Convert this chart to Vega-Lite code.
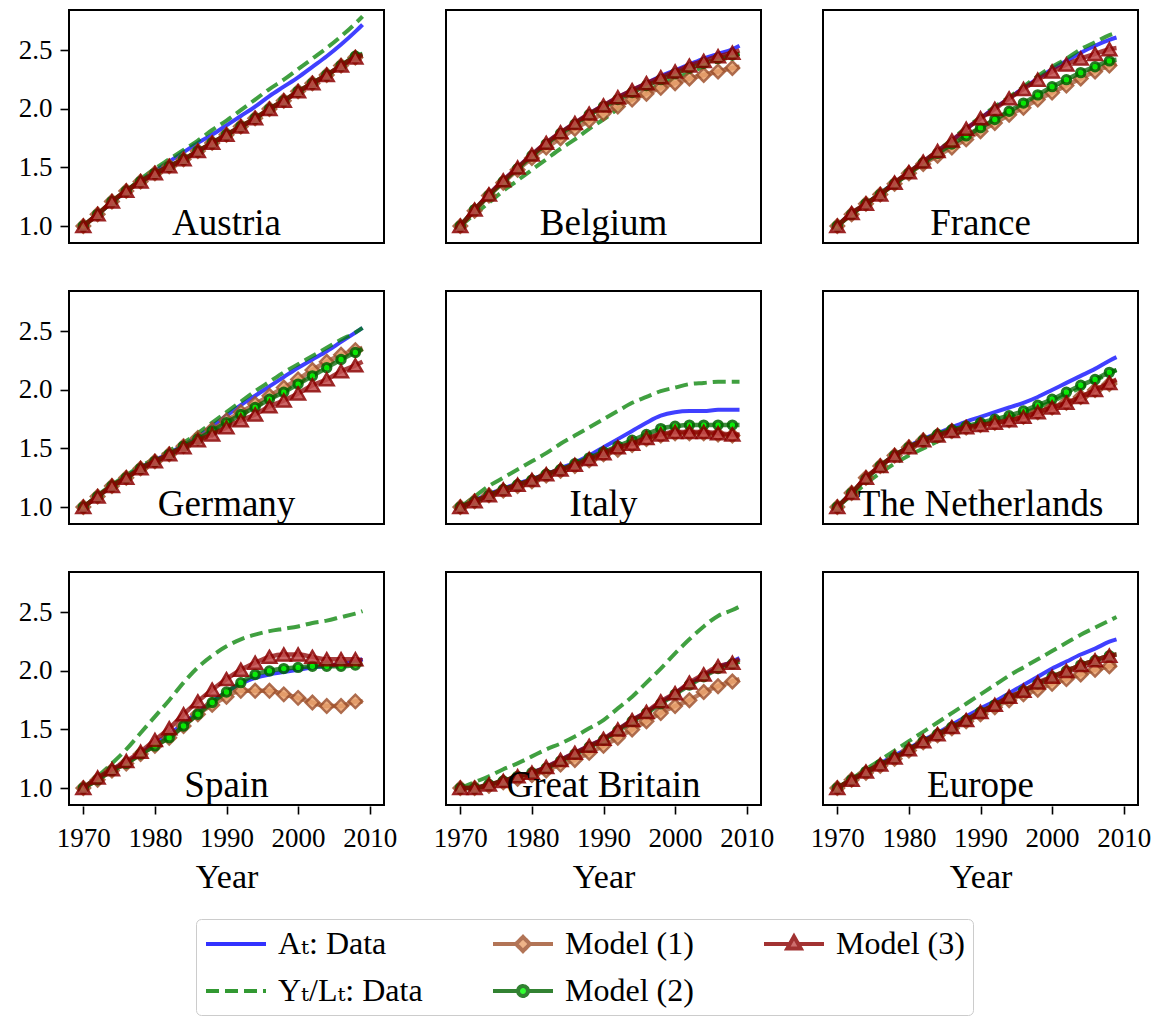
{
"$schema": "https://vega.github.io/schema/vega-lite/v6.json",
"padding": {"left": 18, "top": 7, "right": 5, "bottom": 5},
"background": "white",
"data": {"values": [
{"c":"Austria","yr":1970,"M1":1.00,"M2":1.00,"M3":1.00,"A":1.00,"Y":1.00},
{"c":"Austria","yr":1972,"M1":1.10,"M2":1.10,"M3":1.10,"A":1.10,"Y":1.10},
{"c":"Austria","yr":1974,"M1":1.21,"M2":1.21,"M3":1.21,"A":1.20,"Y":1.20},
{"c":"Austria","yr":1976,"M1":1.30,"M2":1.30,"M3":1.30,"A":1.30,"Y":1.30},
{"c":"Austria","yr":1978,"M1":1.38,"M2":1.38,"M3":1.38,"A":1.39,"Y":1.40},
{"c":"Austria","yr":1980,"M1":1.45,"M2":1.45,"M3":1.45,"A":1.47,"Y":1.49},
{"c":"Austria","yr":1982,"M1":1.51,"M2":1.51,"M3":1.51,"A":1.55,"Y":1.57},
{"c":"Austria","yr":1984,"M1":1.57,"M2":1.57,"M3":1.57,"A":1.63,"Y":1.65},
{"c":"Austria","yr":1986,"M1":1.64,"M2":1.64,"M3":1.64,"A":1.71,"Y":1.73},
{"c":"Austria","yr":1988,"M1":1.71,"M2":1.71,"M3":1.71,"A":1.78,"Y":1.82},
{"c":"Austria","yr":1990,"M1":1.78,"M2":1.78,"M3":1.78,"A":1.86,"Y":1.90},
{"c":"Austria","yr":1992,"M1":1.85,"M2":1.85,"M3":1.85,"A":1.94,"Y":1.99},
{"c":"Austria","yr":1994,"M1":1.92,"M2":1.92,"M3":1.92,"A":2.02,"Y":2.08},
{"c":"Austria","yr":1996,"M1":2.00,"M2":2.00,"M3":2.00,"A":2.11,"Y":2.17},
{"c":"Austria","yr":1998,"M1":2.07,"M2":2.07,"M3":2.07,"A":2.19,"Y":2.25},
{"c":"Austria","yr":2000,"M1":2.15,"M2":2.15,"M3":2.15,"A":2.27,"Y":2.34},
{"c":"Austria","yr":2002,"M1":2.22,"M2":2.22,"M3":2.22,"A":2.36,"Y":2.43},
{"c":"Austria","yr":2004,"M1":2.29,"M2":2.29,"M3":2.29,"A":2.45,"Y":2.52},
{"c":"Austria","yr":2006,"M1":2.37,"M2":2.37,"M3":2.37,"A":2.55,"Y":2.62},
{"c":"Austria","yr":2008,"M1":2.44,"M2":2.45,"M3":2.44,"A":2.66,"Y":2.73},
{"c":"Austria","yr":2009,"M1":2.46,"M2":2.47,"M3":2.46,"A":2.72,"Y":2.79},
{"c":"Belgium","yr":1970,"M1":1.00,"M2":1.00,"M3":1.00,"A":1.00,"Y":1.00},
{"c":"Belgium","yr":1972,"M1":1.13,"M2":1.14,"M3":1.14,"A":1.14,"Y":1.10},
{"c":"Belgium","yr":1974,"M1":1.26,"M2":1.26,"M3":1.27,"A":1.27,"Y":1.20},
{"c":"Belgium","yr":1976,"M1":1.37,"M2":1.38,"M3":1.39,"A":1.39,"Y":1.30},
{"c":"Belgium","yr":1978,"M1":1.48,"M2":1.49,"M3":1.50,"A":1.50,"Y":1.39},
{"c":"Belgium","yr":1980,"M1":1.58,"M2":1.60,"M3":1.61,"A":1.61,"Y":1.48},
{"c":"Belgium","yr":1982,"M1":1.67,"M2":1.70,"M3":1.71,"A":1.71,"Y":1.57},
{"c":"Belgium","yr":1984,"M1":1.75,"M2":1.79,"M3":1.80,"A":1.80,"Y":1.66},
{"c":"Belgium","yr":1986,"M1":1.83,"M2":1.87,"M3":1.88,"A":1.88,"Y":1.74},
{"c":"Belgium","yr":1988,"M1":1.90,"M2":1.95,"M3":1.96,"A":1.96,"Y":1.83},
{"c":"Belgium","yr":1990,"M1":1.96,"M2":2.02,"M3":2.03,"A":2.03,"Y":1.91},
{"c":"Belgium","yr":1992,"M1":2.02,"M2":2.08,"M3":2.10,"A":2.10,"Y":2.00},
{"c":"Belgium","yr":1994,"M1":2.08,"M2":2.14,"M3":2.16,"A":2.16,"Y":2.08},
{"c":"Belgium","yr":1996,"M1":2.13,"M2":2.20,"M3":2.22,"A":2.22,"Y":2.15},
{"c":"Belgium","yr":1998,"M1":2.18,"M2":2.25,"M3":2.27,"A":2.28,"Y":2.21},
{"c":"Belgium","yr":2000,"M1":2.22,"M2":2.30,"M3":2.32,"A":2.33,"Y":2.26},
{"c":"Belgium","yr":2002,"M1":2.26,"M2":2.35,"M3":2.37,"A":2.38,"Y":2.31},
{"c":"Belgium","yr":2004,"M1":2.29,"M2":2.39,"M3":2.41,"A":2.43,"Y":2.36},
{"c":"Belgium","yr":2006,"M1":2.32,"M2":2.43,"M3":2.45,"A":2.47,"Y":2.41},
{"c":"Belgium","yr":2008,"M1":2.35,"M2":2.46,"M3":2.48,"A":2.51,"Y":2.45},
{"c":"Belgium","yr":2009,"M1":2.36,"M2":2.47,"M3":2.50,"A":2.54,"Y":2.47},
{"c":"France","yr":1970,"M1":1.00,"M2":1.00,"M3":1.00,"A":1.00,"Y":1.00},
{"c":"France","yr":1972,"M1":1.10,"M2":1.10,"M3":1.11,"A":1.11,"Y":1.11},
{"c":"France","yr":1974,"M1":1.19,"M2":1.19,"M3":1.19,"A":1.19,"Y":1.19},
{"c":"France","yr":1976,"M1":1.27,"M2":1.27,"M3":1.27,"A":1.28,"Y":1.28},
{"c":"France","yr":1978,"M1":1.36,"M2":1.36,"M3":1.37,"A":1.37,"Y":1.37},
{"c":"France","yr":1980,"M1":1.45,"M2":1.45,"M3":1.46,"A":1.46,"Y":1.46},
{"c":"France","yr":1982,"M1":1.53,"M2":1.54,"M3":1.55,"A":1.55,"Y":1.55},
{"c":"France","yr":1984,"M1":1.60,"M2":1.62,"M3":1.64,"A":1.64,"Y":1.64},
{"c":"France","yr":1986,"M1":1.67,"M2":1.70,"M3":1.73,"A":1.73,"Y":1.74},
{"c":"France","yr":1988,"M1":1.74,"M2":1.77,"M3":1.83,"A":1.83,"Y":1.84},
{"c":"France","yr":1990,"M1":1.81,"M2":1.84,"M3":1.92,"A":1.92,"Y":1.93},
{"c":"France","yr":1992,"M1":1.88,"M2":1.91,"M3":2.00,"A":2.01,"Y":2.02},
{"c":"France","yr":1994,"M1":1.95,"M2":1.98,"M3":2.09,"A":2.09,"Y":2.10},
{"c":"France","yr":1996,"M1":2.01,"M2":2.05,"M3":2.17,"A":2.18,"Y":2.19},
{"c":"France","yr":1998,"M1":2.08,"M2":2.12,"M3":2.25,"A":2.26,"Y":2.28},
{"c":"France","yr":2000,"M1":2.14,"M2":2.19,"M3":2.32,"A":2.34,"Y":2.36},
{"c":"France","yr":2002,"M1":2.20,"M2":2.25,"M3":2.38,"A":2.41,"Y":2.43},
{"c":"France","yr":2004,"M1":2.26,"M2":2.31,"M3":2.43,"A":2.48,"Y":2.51},
{"c":"France","yr":2006,"M1":2.32,"M2":2.36,"M3":2.47,"A":2.54,"Y":2.57},
{"c":"France","yr":2008,"M1":2.37,"M2":2.41,"M3":2.51,"A":2.59,"Y":2.63},
{"c":"France","yr":2009,"M1":2.39,"M2":2.42,"M3":2.52,"A":2.61,"Y":2.65},
{"c":"Germany","yr":1970,"M1":1.00,"M2":1.00,"M3":1.00,"A":1.00,"Y":1.00},
{"c":"Germany","yr":1972,"M1":1.09,"M2":1.09,"M3":1.09,"A":1.09,"Y":1.10},
{"c":"Germany","yr":1974,"M1":1.18,"M2":1.18,"M3":1.18,"A":1.18,"Y":1.19},
{"c":"Germany","yr":1976,"M1":1.25,"M2":1.25,"M3":1.25,"A":1.26,"Y":1.27},
{"c":"Germany","yr":1978,"M1":1.33,"M2":1.33,"M3":1.33,"A":1.34,"Y":1.35},
{"c":"Germany","yr":1980,"M1":1.39,"M2":1.39,"M3":1.39,"A":1.40,"Y":1.41},
{"c":"Germany","yr":1982,"M1":1.45,"M2":1.45,"M3":1.45,"A":1.46,"Y":1.48},
{"c":"Germany","yr":1984,"M1":1.52,"M2":1.52,"M3":1.51,"A":1.53,"Y":1.55},
{"c":"Germany","yr":1986,"M1":1.59,"M2":1.58,"M3":1.57,"A":1.60,"Y":1.63},
{"c":"Germany","yr":1988,"M1":1.66,"M2":1.65,"M3":1.62,"A":1.69,"Y":1.72},
{"c":"Germany","yr":1990,"M1":1.74,"M2":1.72,"M3":1.68,"A":1.78,"Y":1.81},
{"c":"Germany","yr":1992,"M1":1.81,"M2":1.79,"M3":1.74,"A":1.87,"Y":1.90},
{"c":"Germany","yr":1994,"M1":1.88,"M2":1.85,"M3":1.79,"A":1.95,"Y":1.99},
{"c":"Germany","yr":1996,"M1":1.95,"M2":1.92,"M3":1.86,"A":2.03,"Y":2.07},
{"c":"Germany","yr":1998,"M1":2.02,"M2":1.98,"M3":1.91,"A":2.11,"Y":2.15},
{"c":"Germany","yr":2000,"M1":2.09,"M2":2.05,"M3":1.97,"A":2.19,"Y":2.22},
{"c":"Germany","yr":2002,"M1":2.17,"M2":2.12,"M3":2.04,"A":2.26,"Y":2.29},
{"c":"Germany","yr":2004,"M1":2.24,"M2":2.19,"M3":2.09,"A":2.33,"Y":2.36},
{"c":"Germany","yr":2006,"M1":2.30,"M2":2.26,"M3":2.16,"A":2.41,"Y":2.43},
{"c":"Germany","yr":2008,"M1":2.34,"M2":2.32,"M3":2.21,"A":2.49,"Y":2.49},
{"c":"Germany","yr":2009,"M1":2.36,"M2":2.35,"M3":2.24,"A":2.53,"Y":2.53},
{"c":"Italy","yr":1970,"M1":1.00,"M2":1.00,"M3":1.00,"A":1.00,"Y":1.00},
{"c":"Italy","yr":1972,"M1":1.05,"M2":1.05,"M3":1.05,"A":1.06,"Y":1.09},
{"c":"Italy","yr":1974,"M1":1.10,"M2":1.10,"M3":1.10,"A":1.11,"Y":1.18},
{"c":"Italy","yr":1976,"M1":1.14,"M2":1.15,"M3":1.15,"A":1.16,"Y":1.25},
{"c":"Italy","yr":1978,"M1":1.18,"M2":1.19,"M3":1.19,"A":1.20,"Y":1.32},
{"c":"Italy","yr":1980,"M1":1.22,"M2":1.23,"M3":1.23,"A":1.24,"Y":1.39},
{"c":"Italy","yr":1982,"M1":1.27,"M2":1.28,"M3":1.28,"A":1.28,"Y":1.46},
{"c":"Italy","yr":1984,"M1":1.31,"M2":1.32,"M3":1.32,"A":1.33,"Y":1.54},
{"c":"Italy","yr":1986,"M1":1.35,"M2":1.37,"M3":1.36,"A":1.38,"Y":1.61},
{"c":"Italy","yr":1988,"M1":1.40,"M2":1.42,"M3":1.41,"A":1.44,"Y":1.68},
{"c":"Italy","yr":1990,"M1":1.45,"M2":1.47,"M3":1.46,"A":1.51,"Y":1.75},
{"c":"Italy","yr":1992,"M1":1.49,"M2":1.52,"M3":1.51,"A":1.58,"Y":1.82},
{"c":"Italy","yr":1994,"M1":1.53,"M2":1.57,"M3":1.54,"A":1.65,"Y":1.89},
{"c":"Italy","yr":1996,"M1":1.58,"M2":1.62,"M3":1.59,"A":1.72,"Y":1.94},
{"c":"Italy","yr":1998,"M1":1.61,"M2":1.67,"M3":1.62,"A":1.78,"Y":1.99},
{"c":"Italy","yr":2000,"M1":1.63,"M2":1.69,"M3":1.64,"A":1.81,"Y":2.02},
{"c":"Italy","yr":2002,"M1":1.63,"M2":1.70,"M3":1.64,"A":1.82,"Y":2.05},
{"c":"Italy","yr":2004,"M1":1.63,"M2":1.70,"M3":1.64,"A":1.82,"Y":2.06},
{"c":"Italy","yr":2006,"M1":1.62,"M2":1.70,"M3":1.63,"A":1.83,"Y":2.07},
{"c":"Italy","yr":2008,"M1":1.61,"M2":1.70,"M3":1.62,"A":1.83,"Y":2.07},
{"c":"Italy","yr":2009,"M1":1.61,"M2":1.70,"M3":1.62,"A":1.83,"Y":2.07},
{"c":"The Netherlands","yr":1970,"M1":1.00,"M2":1.00,"M3":1.00,"A":1.00,"Y":1.00},
{"c":"The Netherlands","yr":1972,"M1":1.12,"M2":1.12,"M3":1.12,"A":1.12,"Y":1.10},
{"c":"The Netherlands","yr":1974,"M1":1.25,"M2":1.24,"M3":1.25,"A":1.25,"Y":1.20},
{"c":"The Netherlands","yr":1976,"M1":1.35,"M2":1.35,"M3":1.35,"A":1.35,"Y":1.29},
{"c":"The Netherlands","yr":1978,"M1":1.44,"M2":1.44,"M3":1.44,"A":1.44,"Y":1.37},
{"c":"The Netherlands","yr":1980,"M1":1.51,"M2":1.51,"M3":1.51,"A":1.52,"Y":1.44},
{"c":"The Netherlands","yr":1982,"M1":1.57,"M2":1.57,"M3":1.57,"A":1.58,"Y":1.50},
{"c":"The Netherlands","yr":1984,"M1":1.61,"M2":1.62,"M3":1.61,"A":1.63,"Y":1.56},
{"c":"The Netherlands","yr":1986,"M1":1.65,"M2":1.66,"M3":1.65,"A":1.68,"Y":1.61},
{"c":"The Netherlands","yr":1988,"M1":1.68,"M2":1.69,"M3":1.68,"A":1.73,"Y":1.66},
{"c":"The Netherlands","yr":1990,"M1":1.70,"M2":1.72,"M3":1.70,"A":1.77,"Y":1.70},
{"c":"The Netherlands","yr":1992,"M1":1.72,"M2":1.75,"M3":1.72,"A":1.81,"Y":1.73},
{"c":"The Netherlands","yr":1994,"M1":1.74,"M2":1.78,"M3":1.74,"A":1.85,"Y":1.76},
{"c":"The Netherlands","yr":1996,"M1":1.77,"M2":1.82,"M3":1.77,"A":1.89,"Y":1.80},
{"c":"The Netherlands","yr":1998,"M1":1.81,"M2":1.87,"M3":1.81,"A":1.94,"Y":1.85},
{"c":"The Netherlands","yr":2000,"M1":1.85,"M2":1.92,"M3":1.85,"A":2.00,"Y":1.90},
{"c":"The Netherlands","yr":2002,"M1":1.89,"M2":1.98,"M3":1.89,"A":2.06,"Y":1.96},
{"c":"The Netherlands","yr":2004,"M1":1.94,"M2":2.04,"M3":1.94,"A":2.12,"Y":2.02},
{"c":"The Netherlands","yr":2006,"M1":2.00,"M2":2.09,"M3":2.00,"A":2.18,"Y":2.08},
{"c":"The Netherlands","yr":2008,"M1":2.05,"M2":2.15,"M3":2.06,"A":2.25,"Y":2.14},
{"c":"The Netherlands","yr":2009,"M1":2.08,"M2":2.17,"M3":2.09,"A":2.28,"Y":2.17},
{"c":"Spain","yr":1970,"M1":1.00,"M2":1.00,"M3":1.00,"A":1.00,"Y":1.00},
{"c":"Spain","yr":1972,"M1":1.07,"M2":1.07,"M3":1.09,"A":1.08,"Y":1.10},
{"c":"Spain","yr":1974,"M1":1.15,"M2":1.15,"M3":1.16,"A":1.16,"Y":1.21},
{"c":"Spain","yr":1976,"M1":1.21,"M2":1.21,"M3":1.23,"A":1.22,"Y":1.33},
{"c":"Spain","yr":1978,"M1":1.29,"M2":1.29,"M3":1.31,"A":1.30,"Y":1.47},
{"c":"Spain","yr":1980,"M1":1.36,"M2":1.36,"M3":1.41,"A":1.38,"Y":1.61},
{"c":"Spain","yr":1982,"M1":1.43,"M2":1.43,"M3":1.51,"A":1.46,"Y":1.75},
{"c":"Spain","yr":1984,"M1":1.53,"M2":1.53,"M3":1.63,"A":1.55,"Y":1.90},
{"c":"Spain","yr":1986,"M1":1.63,"M2":1.63,"M3":1.74,"A":1.65,"Y":2.03},
{"c":"Spain","yr":1988,"M1":1.71,"M2":1.73,"M3":1.84,"A":1.74,"Y":2.13},
{"c":"Spain","yr":1990,"M1":1.78,"M2":1.82,"M3":1.93,"A":1.82,"Y":2.21},
{"c":"Spain","yr":1992,"M1":1.83,"M2":1.90,"M3":2.01,"A":1.89,"Y":2.27},
{"c":"Spain","yr":1994,"M1":1.83,"M2":1.97,"M3":2.07,"A":1.94,"Y":2.31},
{"c":"Spain","yr":1996,"M1":1.83,"M2":2.00,"M3":2.12,"A":1.97,"Y":2.34},
{"c":"Spain","yr":1998,"M1":1.80,"M2":2.02,"M3":2.14,"A":1.99,"Y":2.36},
{"c":"Spain","yr":2000,"M1":1.77,"M2":2.03,"M3":2.14,"A":2.01,"Y":2.38},
{"c":"Spain","yr":2002,"M1":1.73,"M2":2.04,"M3":2.12,"A":2.03,"Y":2.41},
{"c":"Spain","yr":2004,"M1":1.70,"M2":2.04,"M3":2.10,"A":2.04,"Y":2.43},
{"c":"Spain","yr":2006,"M1":1.70,"M2":2.04,"M3":2.10,"A":2.06,"Y":2.46},
{"c":"Spain","yr":2008,"M1":1.74,"M2":2.05,"M3":2.10,"A":2.08,"Y":2.49},
{"c":"Spain","yr":2009,"M1":1.74,"M2":2.06,"M3":2.09,"A":2.10,"Y":2.51},
{"c":"Great Britain","yr":1970,"M1":1.00,"M2":1.00,"M3":1.00,"A":1.00,"Y":1.00},
{"c":"Great Britain","yr":1972,"M1":1.00,"M2":1.00,"M3":1.00,"A":1.00,"Y":1.05},
{"c":"Great Britain","yr":1974,"M1":1.02,"M2":1.03,"M3":1.03,"A":1.03,"Y":1.10},
{"c":"Great Britain","yr":1976,"M1":1.05,"M2":1.06,"M3":1.06,"A":1.06,"Y":1.16},
{"c":"Great Britain","yr":1978,"M1":1.08,"M2":1.10,"M3":1.10,"A":1.10,"Y":1.21},
{"c":"Great Britain","yr":1980,"M1":1.11,"M2":1.13,"M3":1.13,"A":1.13,"Y":1.27},
{"c":"Great Britain","yr":1982,"M1":1.15,"M2":1.17,"M3":1.18,"A":1.18,"Y":1.33},
{"c":"Great Britain","yr":1984,"M1":1.20,"M2":1.23,"M3":1.24,"A":1.24,"Y":1.38},
{"c":"Great Britain","yr":1986,"M1":1.24,"M2":1.29,"M3":1.30,"A":1.30,"Y":1.44},
{"c":"Great Britain","yr":1988,"M1":1.30,"M2":1.35,"M3":1.36,"A":1.36,"Y":1.51},
{"c":"Great Britain","yr":1990,"M1":1.36,"M2":1.41,"M3":1.42,"A":1.42,"Y":1.58},
{"c":"Great Britain","yr":1992,"M1":1.43,"M2":1.49,"M3":1.50,"A":1.50,"Y":1.68},
{"c":"Great Britain","yr":1994,"M1":1.50,"M2":1.57,"M3":1.58,"A":1.58,"Y":1.78},
{"c":"Great Britain","yr":1996,"M1":1.57,"M2":1.64,"M3":1.65,"A":1.65,"Y":1.90},
{"c":"Great Britain","yr":1998,"M1":1.64,"M2":1.72,"M3":1.74,"A":1.73,"Y":2.02},
{"c":"Great Britain","yr":2000,"M1":1.70,"M2":1.80,"M3":1.81,"A":1.81,"Y":2.15},
{"c":"Great Britain","yr":2002,"M1":1.75,"M2":1.88,"M3":1.90,"A":1.89,"Y":2.27},
{"c":"Great Britain","yr":2004,"M1":1.82,"M2":1.95,"M3":1.97,"A":1.96,"Y":2.38},
{"c":"Great Britain","yr":2006,"M1":1.87,"M2":2.02,"M3":2.04,"A":2.03,"Y":2.47},
{"c":"Great Britain","yr":2008,"M1":1.91,"M2":2.06,"M3":2.07,"A":2.08,"Y":2.52},
{"c":"Great Britain","yr":2009,"M1":1.93,"M2":2.08,"M3":2.10,"A":2.11,"Y":2.55},
{"c":"Europe","yr":1970,"M1":1.00,"M2":1.00,"M3":1.00,"A":1.00,"Y":1.00},
{"c":"Europe","yr":1972,"M1":1.07,"M2":1.07,"M3":1.07,"A":1.07,"Y":1.08},
{"c":"Europe","yr":1974,"M1":1.13,"M2":1.14,"M3":1.14,"A":1.14,"Y":1.16},
{"c":"Europe","yr":1976,"M1":1.19,"M2":1.20,"M3":1.20,"A":1.21,"Y":1.24},
{"c":"Europe","yr":1978,"M1":1.25,"M2":1.26,"M3":1.26,"A":1.28,"Y":1.32},
{"c":"Europe","yr":1980,"M1":1.32,"M2":1.33,"M3":1.33,"A":1.34,"Y":1.40},
{"c":"Europe","yr":1982,"M1":1.39,"M2":1.40,"M3":1.40,"A":1.41,"Y":1.48},
{"c":"Europe","yr":1984,"M1":1.45,"M2":1.46,"M3":1.46,"A":1.47,"Y":1.56},
{"c":"Europe","yr":1986,"M1":1.51,"M2":1.52,"M3":1.52,"A":1.54,"Y":1.64},
{"c":"Europe","yr":1988,"M1":1.57,"M2":1.58,"M3":1.58,"A":1.61,"Y":1.72},
{"c":"Europe","yr":1990,"M1":1.63,"M2":1.65,"M3":1.65,"A":1.68,"Y":1.80},
{"c":"Europe","yr":1992,"M1":1.69,"M2":1.71,"M3":1.71,"A":1.74,"Y":1.88},
{"c":"Europe","yr":1994,"M1":1.75,"M2":1.77,"M3":1.78,"A":1.81,"Y":1.96},
{"c":"Europe","yr":1996,"M1":1.80,"M2":1.83,"M3":1.83,"A":1.88,"Y":2.03},
{"c":"Europe","yr":1998,"M1":1.84,"M2":1.89,"M3":1.90,"A":1.95,"Y":2.10},
{"c":"Europe","yr":2000,"M1":1.89,"M2":1.95,"M3":1.95,"A":2.02,"Y":2.17},
{"c":"Europe","yr":2002,"M1":1.93,"M2":2.00,"M3":2.00,"A":2.08,"Y":2.24},
{"c":"Europe","yr":2004,"M1":1.97,"M2":2.05,"M3":2.05,"A":2.14,"Y":2.31},
{"c":"Europe","yr":2006,"M1":2.01,"M2":2.09,"M3":2.09,"A":2.19,"Y":2.37},
{"c":"Europe","yr":2008,"M1":2.04,"M2":2.13,"M3":2.13,"A":2.25,"Y":2.43},
{"c":"Europe","yr":2009,"M1":2.05,"M2":2.14,"M3":2.14,"A":2.27,"Y":2.46}
]},
"transform": [{"fold": ["A", "Y", "M1", "M2", "M3"], "as": ["s", "v"]}],
"facet": {"field": "c", "type": "nominal", "sort": ["Austria","Belgium","France","Germany","Italy","The Netherlands","Spain","Great Britain","Europe"],
  "header": {"title": null, "labels": false, "labelExpr": "''", "labelFontSize": 0.01, "labelPadding": 0}},
"columns": 3,
"spacing": {"row": 45, "column": 60},
"spec": {
  "width": 315,
  "height": 233,
  "encoding": {
    "x": {"field": "yr", "type": "quantitative", "title": "Year",
      "scale": {"domain": [1968, 2012], "nice": false, "zero": false},
      "axis": {"values": [1970, 1980, 1990, 2000, 2010], "format": "d", "labelOverlap": false, "labelFlush": false}},
    "y": {"field": "v", "type": "quantitative", "title": null,
      "scale": {"domain": [0.855, 2.845], "nice": false, "zero": false},
      "axis": {"values": [1.0, 1.5, 2.0, 2.5], "format": ".1f", "labelOverlap": false, "labelFlush": false}}
  },
  "layer": [
    {"transform": [{"filter": "datum.s == 'A'"}],
     "mark": {"type": "line", "strokeWidth": 4, "opacity": 0.75, "color": "#0000ff", "interpolate": "monotone"},
     "encoding": {}},
    {"transform": [{"filter": "datum.s == 'Y'"}],
     "mark": {"type": "line", "strokeWidth": 4, "opacity": 0.75, "color": "#008000", "strokeDash": [13, 6], "interpolate": "monotone"},
     "encoding": {}},
    {"transform": [{"filter": "datum.s == 'M1'"}],
     "mark": {"type": "line", "strokeWidth": 4.5, "opacity": 0.75, "color": "#a0522d", "interpolate": "monotone"},
     "encoding": {}},
    {"transform": [{"filter": "datum.s == 'M1' && datum.yr % 2 == 0"}],
     "mark": {"type": "point", "shape": "diamond", "size": 180, "filled": true, "fill": "#eba26c", "stroke": "#a0522d", "strokeWidth": 2.5, "opacity": 0.85},
     "encoding": {}},
    {"transform": [{"filter": "datum.s == 'M2'"}],
     "mark": {"type": "line", "strokeWidth": 4.5, "opacity": 0.75, "color": "#006400", "interpolate": "monotone"},
     "encoding": {}},
    {"transform": [{"filter": "datum.s == 'M2' && datum.yr % 2 == 0"}],
     "mark": {"type": "point", "shape": "circle", "size": 70, "filled": true, "fill": "#00ff00", "stroke": "#006400", "strokeWidth": 3, "opacity": 0.85},
     "encoding": {}},
    {"transform": [{"filter": "datum.s == 'M3'"}],
     "mark": {"type": "line", "strokeWidth": 4.5, "opacity": 0.75, "color": "#8b0000", "interpolate": "monotone"},
     "encoding": {}},
    {"transform": [{"filter": "datum.s == 'M3' && datum.yr % 2 == 0"}],
     "mark": {"type": "point", "shape": "triangle-up", "size": 190, "filled": true, "fill": "#c24c4c", "stroke": "#8b0000", "strokeWidth": 2.5, "opacity": 0.85},
     "encoding": {}},
    {"transform": [{"filter": "false"}],
     "mark": {"type": "point", "filled": true, "size": 900, "strokeWidth": 4, "opacity": 0.8},
     "encoding": {
       "shape": {"field": "s", "type": "nominal",
         "scale": {"domain": ["A", "M1", "M3", "Y", "M2"], "range": [
           "M-1,0H3",
           "M-1,0H0.53M1.47,0H3M1,-0.47L1.47,0L1,0.47L0.53,0Z",
           "M-1,0H0.72M1.28,0H3M1,-0.5L1.45,0.3L0.55,0.3Z",
           "M-1,0H3",
           "M-1,0H0.67M1.33,0H3M0.67,0A0.33,0.33 0 1,0 1.33,0A0.33,0.33 0 1,0 0.67,0Z"]},
         "legend": {
          "title": null, "orient": "bottom", "direction": "horizontal", "columns": 3,
          "labelExpr": "datum.label == 'A' ? 'Aₜ: Data' : datum.label == 'Y' ? 'Yₜ/Lₜ: Data' : datum.label == 'M1' ? 'Model (1)' : datum.label == 'M2' ? 'Model (2)' : 'Model (3)'",
          "labelFont": "Liberation Serif, DejaVu Serif, DejaVu Sans", "labelFontSize": 32, "labelColor": "black",
          "symbolSize": 900, "symbolStrokeWidth": 4, "symbolOpacity": 0.8, "labelOffset": 40,
          "columnPadding": 62, "rowPadding": 14, "padding": 8, "offset": 25,
          "strokeColor": "#cccccc", "fillColor": "white", "cornerRadius": 5}},
       "fill": {"field": "s", "type": "nominal",
         "scale": {"domain": ["A", "M1", "M3", "Y", "M2"], "range": ["transparent", "#eba26c", "#c24c4c", "transparent", "#00ff00"]},
         "legend": {"title": null}},
       "stroke": {"field": "s", "type": "nominal",
         "scale": {"domain": ["A", "M1", "M3", "Y", "M2"], "range": ["#0000ff", "#a0522d", "#8b0000", "#008000", "#006400"]},
         "legend": {"title": null}},
       "strokeDash": {"field": "s", "type": "nominal",
         "scale": {"domain": ["A", "M1", "M3", "Y", "M2"], "range": [[1, 0], [1, 0], [1, 0], [13, 6], [1, 0]]},
         "legend": {"title": null}}
     }},
    {"transform": [{"filter": "datum.s == 'A' && datum.yr == 1970"}],
     "mark": {"type": "text", "font": "Liberation Serif", "fontSize": 37, "baseline": "bottom", "align": "center", "color": "black"},
     "encoding": {"x": {"datum": 1990}, "y": {"datum": 0.855}, "text": {"field": "c", "type": "nominal"}}}
  ]
},
"config": {
  "font": "Liberation Serif",
  "view": {"stroke": "black", "strokeWidth": 2},
  "headerFacet": {"labels": false, "title": null, "labelPadding": 0, "labelFontSize": 0.01},
  "axis": {"domain": false, "grid": false, "ticks": true, "tickColor": "black", "tickWidth": 1.6, "tickSize": 8,
    "labelFont": "Liberation Serif", "labelFontSize": 27, "labelColor": "black",
    "titleFont": "Liberation Serif", "titleFontSize": 34, "titleFontWeight": "normal", "titleColor": "black"},
  "axisX": {"labelPadding": 11, "titlePadding": 9},
  "axisY": {"labelPadding": 8},
  "legend": {"layout": {"bottom": {"anchor": "middle"}}}
}
}
